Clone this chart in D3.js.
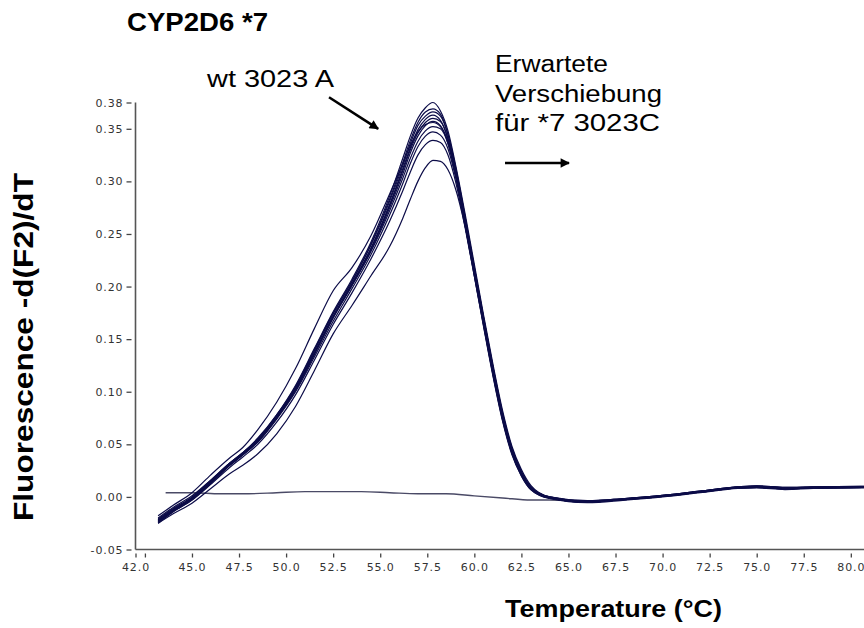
<!DOCTYPE html>
<html>
<head>
<meta charset="utf-8">
<script src="https://cdn.jsdelivr.net/npm/d3@7"></script>
<style>
  body { margin: 0; background: #fff; }
  svg { display: block; }
  .tick text { font-family: "DejaVu Sans", sans-serif; font-size: 11px; fill: #333; letter-spacing: 0.9px; }
  .tick line { stroke: #444; stroke-width: 1.3; }
  .label { font-family: "Liberation Sans", Arial, sans-serif; font-weight: bold; fill: #000; }
  .note { font-family: "Liberation Sans", Arial, sans-serif; fill: #000; }
</style>
</head>
<body>
<svg width="864" height="628"></svg>
<script>
// **** Data ****

var temps = [43.2, 44, 45, 46, 47, 47.7, 48.5, 49.5, 50.5, 51.5, 52.5, 53.5, 54.5, 55.5, 56.2, 56.6, 57, 57.4, 57.8, 58.2,
             58.6, 59, 59.5, 60, 60.5, 61, 61.5, 62, 62.5, 63, 64, 66, 68, 70, 72, 74, 75, 76.5, 78, 80.7];

var curve1 = [-0.022, -0.012, -0.001, 0.015, 0.032, 0.042, 0.055, 0.078, 0.106, 0.141, 0.176, 0.207, 0.242, 0.286, 0.322, 0.343, 0.360, 0.370, 0.375, 0.367,
              0.348, 0.316, 0.270, 0.221, 0.172, 0.125, 0.082, 0.048, 0.026, 0.011, 0.000, -0.0035, -0.0015, 0.0015, 0.0055, 0.0095, 0.0105, 0.009, 0.0095, 0.010];
var curve2 = [-0.024, -0.013, -0.002, 0.014, 0.031, 0.041, 0.054, 0.077, 0.104, 0.139, 0.174, 0.205, 0.240, 0.283, 0.318, 0.339, 0.356, 0.366, 0.369, 0.364,
              0.345, 0.314, 0.267, 0.218, 0.169, 0.122, 0.079, 0.046, 0.024, 0.009, -0.001, -0.0045, -0.002, 0.001, 0.005, 0.009, 0.010, 0.0085, 0.009, 0.0095];
var curve3 = [-0.021, -0.011, 0.000, 0.016, 0.032, 0.042, 0.056, 0.078, 0.105, 0.140, 0.175, 0.205, 0.239, 0.281, 0.315, 0.336, 0.353, 0.362, 0.366, 0.362,
              0.344, 0.313, 0.267, 0.218, 0.170, 0.123, 0.080, 0.046, 0.024, 0.010, 0.000, -0.004, -0.0015, 0.0015, 0.0055, 0.0095, 0.0105, 0.009, 0.0095, 0.010];
var curve4 = [-0.023, -0.013, -0.002, 0.013, 0.030, 0.040, 0.053, 0.075, 0.102, 0.136, 0.171, 0.202, 0.236, 0.278, 0.312, 0.332, 0.349, 0.359, 0.363, 0.358,
              0.340, 0.309, 0.262, 0.213, 0.164, 0.117, 0.075, 0.042, 0.021, 0.008, -0.001, -0.0045, -0.002, 0.001, 0.005, 0.009, 0.0095, 0.008, 0.009, 0.0095];
var curve5 = [-0.022, -0.012, -0.001, 0.015, 0.031, 0.041, 0.054, 0.076, 0.103, 0.137, 0.172, 0.203, 0.236, 0.277, 0.310, 0.330, 0.346, 0.356, 0.360, 0.357,
              0.341, 0.311, 0.265, 0.216, 0.168, 0.121, 0.078, 0.045, 0.023, 0.008, -0.001, -0.005, -0.0025, 0.0005, 0.0045, 0.0085, 0.009, 0.0075, 0.0085, 0.009];
var curve6 = [-0.025, -0.014, -0.003, 0.013, 0.030, 0.040, 0.053, 0.075, 0.101, 0.135, 0.170, 0.201, 0.234, 0.275, 0.307, 0.327, 0.343, 0.353, 0.357, 0.353,
              0.336, 0.306, 0.259, 0.210, 0.162, 0.115, 0.073, 0.041, 0.020, 0.007, -0.0015, -0.005, -0.0025, 0.0005, 0.0045, 0.0085, 0.009, 0.0075, 0.0085, 0.009];
var curve7 = [-0.020, -0.010, 0.001, 0.016, 0.032, 0.042, 0.055, 0.077, 0.103, 0.137, 0.171, 0.201, 0.233, 0.272, 0.303, 0.322, 0.338, 0.348, 0.352, 0.350,
              0.336, 0.308, 0.263, 0.215, 0.167, 0.120, 0.078, 0.045, 0.023, 0.009, -0.001, -0.0045, -0.002, 0.001, 0.005, 0.009, 0.0095, 0.008, 0.0085, 0.009];
var curve8 = [-0.023, -0.013, -0.002, 0.014, 0.030, 0.040, 0.052, 0.074, 0.100, 0.133, 0.167, 0.198, 0.230, 0.268, 0.298, 0.317, 0.333, 0.343, 0.347, 0.344,
              0.331, 0.304, 0.259, 0.211, 0.163, 0.116, 0.074, 0.042, 0.021, 0.008, -0.001, -0.005, -0.002, 0.001, 0.005, 0.009, 0.0095, 0.008, 0.009, 0.0095];
var curve9 = [-0.024, -0.014, -0.003, 0.012, 0.028, 0.038, 0.050, 0.071, 0.097, 0.130, 0.164, 0.194, 0.226, 0.262, 0.291, 0.309, 0.325, 0.335, 0.339, 0.337,
              0.325, 0.300, 0.257, 0.210, 0.161, 0.114, 0.072, 0.040, 0.020, 0.007, -0.0015, -0.0055, -0.003, 0.000, 0.004, 0.008, 0.0085, 0.007, 0.008, 0.0085];
var curve10 = [-0.025, -0.016, -0.006, 0.008, 0.022, 0.030, 0.041, 0.060, 0.086, 0.120, 0.155, 0.182, 0.210, 0.238, 0.265, 0.283, 0.300, 0.313, 0.320, 0.319,
               0.311, 0.293, 0.258, 0.214, 0.167, 0.120, 0.078, 0.045, 0.023, 0.009, -0.001, -0.005, -0.0025, 0.0005, 0.0045, 0.0085, 0.009, 0.0075, 0.0085, 0.009];
var curve11 = [-0.018, -0.008, 0.004, 0.021, 0.037, 0.047, 0.064, 0.090, 0.122, 0.160, 0.196, 0.218, 0.248, 0.288, 0.317, 0.334, 0.347, 0.354, 0.356, 0.352,
               0.338, 0.310, 0.265, 0.217, 0.169, 0.122, 0.079, 0.046, 0.024, 0.009, 0.000, -0.004, -0.0015, 0.0015, 0.0055, 0.0095, 0.010, 0.0085, 0.009, 0.0095];

// no-template control, the flat line
var ntcTemps = [43.6, 45, 46.5, 48, 49.5, 51, 52.5, 54, 55.5, 57, 58.5, 60, 61.5, 63, 64, 66, 68, 70, 72, 74, 75, 76.5, 78, 80.7];
var ntcValues = [0.004, 0.004, 0.003, 0.003, 0.004, 0.005, 0.005, 0.005, 0.004, 0.003, 0.003, 0.001, -0.001, -0.003, -0.003, -0.004,
                 -0.002, 0.001, 0.005, 0.009, 0.0095, 0.008, 0.009, 0.0095];

var xTicks = [42, 42.5, 45, 47.5, 50, 52.5, 55, 57.5, 60, 62.5, 65, 67.5, 70, 72.5, 75, 77.5, 80];
var xTickLabels = ["42.0", "", "45.0", "47.5", "50.0", "52.5", "55.0", "57.5", "60.0", "62.5", "65.0", "67.5", "70.0", "72.5", "75.0", "77.5", "80.0"];
var yTicks = [-0.05, 0, 0.05, 0.10, 0.15, 0.20, 0.25, 0.30, 0.35, 0.375];
var yTickLabels = ["-0.05", "0.00", "0.05", "0.10", "0.15", "0.20", "0.25", "0.30", "0.35", "0.38"];

// annotation arrows in data units [temp, value]
var wtArrow = [[52.28, 0.380], [54.89, 0.350]];
var shiftArrow = [[61.63, 0.3175], [65.03, 0.3175]];

// **** Scales ****

var svg = d3.select('svg');

var tempScale = d3.scaleLinear().domain([42, 80.7]).range([135.5, 864]);
var fluoScale = d3.scaleLinear().domain([-0.05, 0.375]).range([549.5, 102.5]);

svg.append('defs').append('marker')
    .attr('id', 'head').attr('viewBox', '0 0 10 10')
    .attr('refX', 9).attr('refY', 5)
    .attr('markerWidth', 4.2).attr('markerHeight', 3.6)
    .attr('markerUnits', 'strokeWidth').attr('orient', 'auto')
    .append('path').attr('d', 'M0,0 L10,5 L0,10 Z').style('fill', '#000');

// **** Axes ****

var xAxis = svg.append('g').attr('class', 'x axis')
    .attr('transform', 'translate(0,549.5)')
    .call(d3.axisBottom(tempScale).tickValues(xTicks).tickSize(8)
        .tickFormat(function (d, i) { return xTickLabels[i]; }));
xAxis.select('.domain').remove();
xAxis.selectAll('.tick line').attr('y1', 4).attr('y2', 8);
xAxis.selectAll('.tick text').attr('y', 14);
xAxis.append('line').attr('x1', 135.5).attr('x2', 864).attr('y1', 0).attr('y2', 0)
    .style('stroke', '#555').style('stroke-width', 1.6);

var yAxis = svg.append('g').attr('class', 'y axis')
    .attr('transform', 'translate(135.5,0)')
    .call(d3.axisLeft(fluoScale).tickValues(yTicks).tickSize(9)
        .tickFormat(function (d, i) { return yTickLabels[i]; }));
yAxis.select('.domain').remove();
yAxis.selectAll('.tick line').attr('x1', -4).attr('x2', -9);
yAxis.selectAll('.tick text').attr('x', -12);
yAxis.append('line').attr('x1', 0).attr('x2', 0).attr('y1', 102.5).attr('y2', 549.5)
    .style('stroke', '#555').style('stroke-width', 1.6);

// **** Curves ****

var ntcLine = d3.line()
    .x(function (d, i) { return tempScale(ntcTemps[i]); })
    .y(function (d) { return fluoScale(d); })
    .curve(d3.curveMonotoneX);

svg.append('path').attr('class', 'ntc')
    .attr('d', ntcLine(ntcValues))
    .style('fill', 'none').style('stroke', '#4a4a66').style('stroke-width', 1.4);

var meltLine = d3.line()
    .x(function (d, i) { return tempScale(temps[i]); })
    .y(function (d) { return fluoScale(d); })
    .curve(d3.curveMonotoneX);

var melts = [curve1, curve2, curve3, curve4, curve5, curve6, curve7, curve8, curve9, curve10, curve11];

svg.selectAll('.melt').data(melts).enter().append('path')
    .attr('class', 'melt')
    .attr('d', function (d) { return meltLine(d); })
    .style('fill', 'none').style('stroke', '#0c0c48').style('stroke-width', 1.2)
    .style('stroke-linejoin', 'round');

// **** Labels and notes ****

svg.append('text').attr('class', 'label')
    .attr('x', 127).attr('y', 31)
    .attr('textLength', 141).attr('lengthAdjust', 'spacingAndGlyphs')
    .style('font-size', '25px').text('CYP2D6 *7');

svg.append('text').attr('class', 'label')
    .attr('transform', 'translate(33,347) rotate(-90)')
    .attr('text-anchor', 'middle')
    .attr('textLength', 348).attr('lengthAdjust', 'spacingAndGlyphs')
    .style('font-size', '27px').text('Fluorescence -d(F2)/dT');

svg.append('text').attr('class', 'label')
    .attr('x', 505).attr('y', 617)
    .attr('textLength', 217).attr('lengthAdjust', 'spacingAndGlyphs')
    .style('font-size', '23px').text('Temperature (°C)');

svg.append('text').attr('class', 'note')
    .attr('x', 207).attr('y', 87)
    .attr('textLength', 127).attr('lengthAdjust', 'spacingAndGlyphs')
    .style('font-size', '24px').text('wt 3023 A');

var shiftNote = ['Erwartete', 'Verschiebung', 'für *7 3023C'];
var shiftWidths = [113, 167, 165];
svg.selectAll('.shift').data(shiftNote).enter().append('text')
    .attr('class', 'note shift')
    .attr('x', 495)
    .attr('y', function (d, i) { return 72 + i * 29.5; })
    .attr('textLength', function (d, i) { return shiftWidths[i]; })
    .attr('lengthAdjust', 'spacingAndGlyphs')
    .style('font-size', '23px')
    .text(function (d) { return d; });

[wtArrow, shiftArrow].forEach(function (a) {
    svg.append('line')
        .attr('x1', tempScale(a[0][0])).attr('y1', fluoScale(a[0][1]))
        .attr('x2', tempScale(a[1][0])).attr('y2', fluoScale(a[1][1]))
        .style('stroke', '#000').style('stroke-width', 2.6)
        .attr('marker-end', 'url(#head)');
});
</script>
</body>
</html>
